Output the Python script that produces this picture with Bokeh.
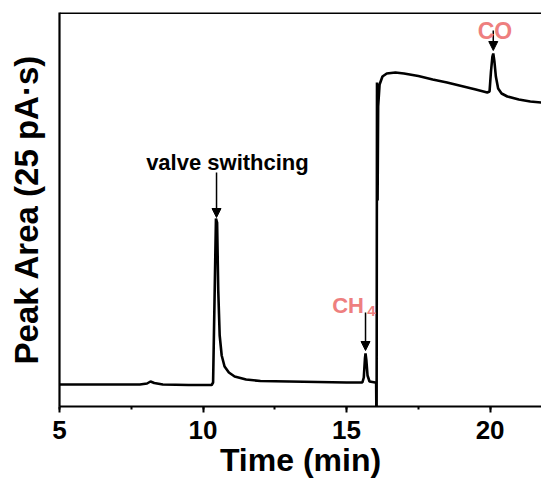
from bokeh.plotting import figure
from bokeh.models import Range1d, SingleIntervalTicker, FixedTicker, Span, Arrow, NormalHead, Label
from bokeh.embed import file_html
from bokeh.resources import INLINE

# Chromatogram trace (time in min, signal in arbitrary units)
time_min = [5.0, 7.8, 8.05, 8.17, 8.3, 8.6, 9.5, 10.3, 10.35, 10.40, 10.45, 10.49, 10.53, 10.58,
            10.65, 10.75, 10.9, 11.1, 11.5, 12.0, 13.0, 14.0, 15.0, 15.55, 15.6, 15.64, 15.66,
            15.69, 15.73, 15.8, 16.0, 16.03, 16.045, 16.06, 16.08, 16.10, 16.15, 16.25, 16.4,
            16.7, 17.0, 17.5, 18.0, 18.5, 19.0, 19.5, 19.9, 19.98, 20.03, 20.08, 20.11, 20.15,
            20.2, 20.28, 20.4, 20.6, 21.0, 21.4, 21.8]
signal = [22, 22, 23, 25, 23.5, 22, 21.5, 21.5, 24, 106, 188, 184, 116, 71,
          51, 40, 34, 30, 27, 25.5, 25, 24.5, 24, 24, 29, 48, 53,
          46, 31, 25, 24, 23.5, -34, 324, 206, 300, 322, 330, 333,
          334, 333, 330.5, 327, 324, 320.5, 317, 314, 315, 335, 350, 353, 345,
          330, 318, 313, 310, 307, 305, 304]

x_ticks_interval = 5
annot_names = ["valve swithcing", "CH", "CO"]
annot_x = [10.47, 15.66, 20.11]
arrow_start = [234, 94, 376]
arrow_end = [189, 56, 356]

FONT = "Liberation Sans"
PINK = "#EE7F7F"

p = figure(width=541, height=484, output_backend="svg", toolbar_location=None,
           x_range=Range1d(5, 21.79), y_range=Range1d(0, 394),
           min_border_left=59, min_border_right=0, min_border_top=12, min_border_bottom=78)
p.outline_line_color = None
p.xgrid.visible = False
p.ygrid.visible = False
p.background_fill_color = "white"
p.border_fill_color = "white"

p.line(time_min, signal, line_color="black", line_width=2.6)

# x axis
xa = p.xaxis[0]
xa.ticker = SingleIntervalTicker(interval=x_ticks_interval, num_minor_ticks=2)
xa.axis_line_width = 2.2
xa.major_tick_line_width = 2
xa.minor_tick_line_width = 2
xa.major_tick_out = 6
xa.major_tick_in = 0
xa.minor_tick_out = 3
xa.minor_tick_in = 0
xa.major_label_text_font = FONT
xa.major_label_text_font_style = "bold"
xa.major_label_text_font_size = "26px"
xa.major_label_text_color = "black"
xa.major_label_standoff = 8
xa.axis_label = "Time (min)"
xa.axis_label_text_font = FONT
xa.axis_label_text_font_style = "bold"
xa.axis_label_text_font_size = "32px"
xa.axis_label_text_color = "black"
xa.axis_label_standoff = 0

# y axis
ya = p.yaxis[0]
ya.ticker = FixedTicker(ticks=[])
ya.axis_line_width = 2.2
ya.major_tick_out = 0
ya.minor_tick_out = 0
ya.axis_label = "Peak Area (25 pA·s)"
ya.axis_label_text_font = FONT
ya.axis_label_text_font_style = "bold"
ya.axis_label_text_font_size = "33px"
ya.axis_label_text_color = "black"
ya.axis_label_standoff = 15

# top border
p.add_layout(Span(location=394, dimension="width", line_color="black", line_width=3))

# arrows
for xv, ys, ye in zip(annot_x, arrow_start, arrow_end):
    p.add_layout(Arrow(end=NormalHead(size=9, fill_color="black", line_color="black", line_width=1),
                       x_start=xv, y_start=ys, x_end=xv, y_end=ye,
                       line_color="black", line_width=1.5))

# labels
p.add_layout(Label(x=10.85, y=244, text=annot_names[0], text_font=FONT, text_font_style="bold",
                   text_font_size="22px", text_align="center", text_baseline="alphabetic",
                   text_color="black"))
p.add_layout(Label(x=14.5, y=101, text=annot_names[1], text_font=FONT, text_font_style="bold",
                   text_font_size="22px", text_align="left", text_baseline="alphabetic",
                   text_color=PINK))
p.add_layout(Label(x=15.72, y=96, text="4", text_font=FONT, text_font_style="bold",
                   text_font_size="15px", text_align="left", text_baseline="alphabetic",
                   text_color=PINK))
p.add_layout(Label(x=20.17, y=376, text=annot_names[2], text_font=FONT, text_font_style="bold",
                   text_font_size="23px", text_align="center", text_baseline="alphabetic",
                   text_color=PINK))

open("out.html", "w").write(file_html(p, INLINE))
